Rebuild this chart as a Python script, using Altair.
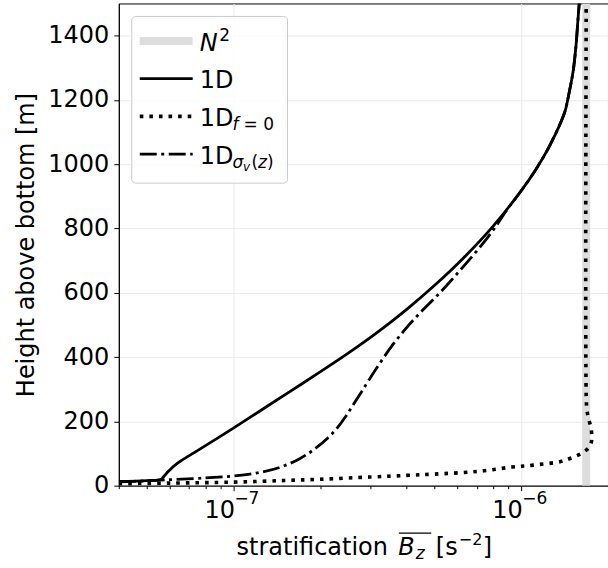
import altair as alt
import pandas as pd

FONT = "DejaVu Sans"

# ---------------- data ----------------
N2_value = 1.68e-6

b_1d = [4.0e-8, 5.0e-8, 5.6e-8, 5.75e-8, 5.95e-8, 6.4e-8, 7.6e-8, 1.0e-7,
        1.259e-7, 1.585e-7, 1.995e-7, 2.512e-7, 3.162e-7, 3.981e-7, 5.012e-7,
        6.310e-7, 7.943e-7, 1.0e-6, 1.122e-6, 1.259e-6, 1.413e-6, 1.445e-6,
        1.479e-6, 1.514e-6, 1.549e-6, 1.570e-6, 1.589e-6]
h_1d = [13, 16, 19, 30, 45, 70, 112, 179,
        237, 295, 353, 413, 477, 547, 624,
        709, 805, 918, 983, 1060, 1160, 1195,
        1240, 1290, 1370, 1440, 1500]

b_f0 = [4.0e-8, 6.0e-8, 1.0e-7, 1.5e-7, 2.0e-7, 3.0e-7, 4.0e-7, 5.0e-7, 7.0e-7,
        9.3e-7, 1.1e-6, 1.37e-6, 1.49e-6, 1.6e-6, 1.71e-6, 1.75e-6, 1.756e-6,
        1.745e-6, 1.71e-6, 1.69e-6, 1.68e-6, 1.68e-6]
h_f0 = [6, 8, 11, 16, 20, 27, 32, 36, 44,
        58, 64, 75, 86, 98, 117, 135, 153,
        181, 210, 236, 280, 1500]

b_sig = [4.0e-8, 5.0e-8, 5.8e-8, 8.0e-8, 1.0e-7, 1.2e-7, 1.45e-7, 1.7e-7, 1.9e-7,
         2.138e-7, 2.291e-7, 2.455e-7, 2.630e-7, 2.818e-7, 3.162e-7, 3.548e-7,
         3.981e-7, 4.467e-7, 5.012e-7, 5.623e-7, 6.310e-7, 7.079e-7, 7.943e-7,
         8.913e-7, 1.0e-6, 1.122e-6, 1.259e-6, 1.413e-6, 1.445e-6, 1.479e-6,
         1.514e-6, 1.549e-6, 1.570e-6, 1.589e-6]
h_sig = [12, 15, 18, 24, 30, 39, 57, 84, 112,
         150, 179, 215, 257, 299, 369, 434,
         490, 539, 584, 632, 683, 735, 792,
         858, 918, 983, 1060, 1160, 1195, 1240,
         1290, 1370, 1440, 1500]

x_major = [1e-7, 1e-6]
x_major_base = ["10", "10"]
x_major_exp = ["\u22127", "\u22126"]
x_minor = [4e-8, 5e-8, 6e-8, 7e-8, 8e-8, 9e-8, 2e-7, 3e-7, 4e-7, 5e-7, 6e-7,
           7e-7, 8e-7, 9e-7, 2e-6]
y_ticks = [0, 200, 400, 600, 800, 1000, 1200, 1400]

X_DOMAIN = [4e-8, 2e-6]
Y_DOMAIN = [0, 1500]

# ---------------- scales / axes ----------------
xscale = alt.Scale(type="log", domain=X_DOMAIN, nice=False)
yscale = alt.Scale(domain=Y_DOMAIN, nice=False, zero=False)

MAJ = "abs(log(datum.value)/LN10 - round(log(datum.value)/LN10)) < 0.001"
xaxis = alt.Axis(values=x_major + x_minor, labels=False, title=None, grid=True,
                 gridColor="#ebebeb", gridWidth=1,
                 gridOpacity={"condition": {"test": MAJ, "value": 1}, "value": 0},
                 tickSize={"condition": {"test": MAJ, "value": 5}, "value": 3},
                 tickColor="black", tickWidth=1, domainColor="black", domainWidth=1)
yaxis = alt.Axis(values=y_ticks, format="d", title="Height above bottom [m]", grid=True,
                 gridColor="#ebebeb", gridWidth=1, tickSize=5, tickColor="black",
                 domainColor="black", labelFont=FONT, labelFontSize=24,
                 labelColor="black", labelPadding=5, titleFont=FONT,
                 titleFontSize=24, titleFontWeight="normal", titleColor="black",
                 titlePadding=9)

def X(field="b"):
    return alt.X(f"{field}:Q", scale=xscale, axis=xaxis)

def Y(field="h"):
    return alt.Y(f"{field}:Q", scale=yscale, axis=yaxis)

def series_df(b, h):
    return pd.DataFrame({"b": b, "h": h, "i": list(range(len(b)))})

# ---------------- data layers ----------------
n2_layer = alt.Chart(pd.DataFrame({"b": [N2_value]})).mark_rule(
    color="#dddddd", strokeWidth=8, clip=True).encode(x=X())

line_1d = alt.Chart(series_df(b_1d, h_1d)).mark_line(
    color="black", strokeWidth=2.8, clip=True, interpolate="catmull-rom"
).encode(x=X(), y=Y(), order="i:Q")

line_f0 = alt.Chart(series_df(b_f0, h_f0)).mark_line(
    color="black", strokeWidth=3.6, strokeDash=[3.6, 6], strokeCap="butt",
    clip=True, interpolate="catmull-rom").encode(x=X(), y=Y(), order="i:Q")

line_sig = alt.Chart(series_df(b_sig, h_sig)).mark_line(
    color="black", strokeWidth=2.8, strokeDash=[17, 4.5, 3, 4.5], strokeCap="butt",
    clip=True, interpolate="catmull-rom").encode(x=X(), y=Y(), order="i:Q")

# ---------------- x tick labels (10^n) ----------------
tick_df = pd.DataFrame({"b": x_major, "base": x_major_base, "exp": x_major_exp})
tick_base = alt.Chart(tick_df).mark_text(
    font=FONT, fontSize=24, align="right", baseline="alphabetic", dx=1.5,
    color="black").encode(x=X(), y=alt.value(515.5), text="base:N")
tick_exp = alt.Chart(tick_df).mark_text(
    font=FONT, fontSize=17, align="left", baseline="alphabetic", dx=1.0,
    color="black").encode(x=X(), y=alt.value(501.5), text="exp:N")

# ---------------- helpers for free text ----------------
one = pd.DataFrame({"a": [0]})

def txt(s, x, y, size=24, style="normal", align="left"):
    return alt.Chart(one).mark_text(
        text=s, font=FONT, fontSize=size, fontStyle=style, align=align,
        baseline="alphabetic", color="black").encode(x=alt.value(x), y=alt.value(y))

# x-axis title: stratification \overline{B_z} [s^-2]
xt = [
    txt("stratification", 118, 552),
    txt("B", 280, 552, style="italic"),
    txt("z", 297.5, 556.5, size=17, style="italic"),
    alt.Chart(one).mark_rule(color="black", strokeWidth=1.3).encode(
        x=alt.value(280.5), x2=alt.value(313), y=alt.value(530.5)),
    txt("[s", 317.5, 552),
    txt("\u22122", 340.5, 542.5, size=16),
    txt("]", 364.5, 552),
]

# ---------------- legend ----------------
legend_box = alt.Chart(one).mark_rect(
    fill="white", fillOpacity=0.8, stroke="#cccccc", strokeWidth=1,
    cornerRadius=4).encode(x=alt.value(13), x2=alt.value(169),
                           y=alt.value(13), y2=alt.value(180))

ly = [37.6, 75.3, 113.1, 150.9]
lb = [y + 9.8 for y in ly]

def handle(y, **kw):
    return alt.Chart(one).mark_rule(**kw).encode(
        x=alt.value(21), x2=alt.value(74), y=alt.value(y))

legend = [
    legend_box,
    handle(ly[0], color="#dddddd", strokeWidth=8),
    handle(ly[1], color="black", strokeWidth=2.8),
    handle(ly[2], color="black", strokeWidth=3.6, strokeDash=[3.6, 6], strokeCap="butt"),
    handle(ly[3], color="black", strokeWidth=2.8, strokeDash=[17, 4.5, 3, 4.5], strokeCap="butt"),
    txt("N", 81, lb[0], style="italic"),
    txt("2", 100.5, lb[0] - 9.5, size=17),
    txt("1D", 81, lb[1]),
    txt("1D", 81, lb[2]),
    txt("f", 114, lb[2] + 4, size=17, style="italic"),
    txt("= 0", 125, lb[2] + 4, size=17),
    txt("1D", 81, lb[3]),
    txt("\u03c3", 114, lb[3] + 4, size=17, style="italic"),
    txt("v", 124.5, lb[3] + 7.5, size=12, style="italic"),
    txt("(", 133, lb[3] + 4, size=17),
    txt("z", 139.5, lb[3] + 4, size=17, style="italic"),
    txt(")", 148.5, lb[3] + 4, size=17),
]

chart = alt.layer(
    n2_layer, line_1d, line_f0, line_sig, tick_base, tick_exp, *xt, *legend
).properties(
    width=490, height=483,
    autosize=alt.AutoSizeParams(type="none"),
    padding={"left": 119, "top": 3, "right": 0, "bottom": 82},
    background="white",
).configure_view(stroke="black", strokeWidth=1)

chart.save("out.html", embed_options={"renderer": "svg", "actions": False})
